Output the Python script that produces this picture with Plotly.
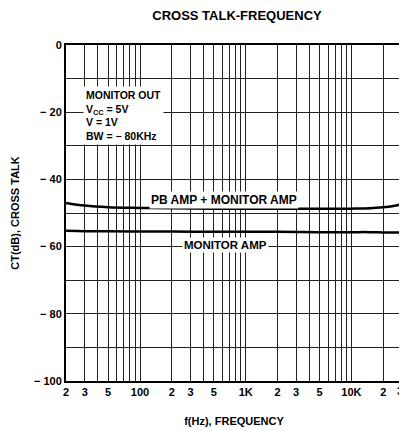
import math
import plotly.graph_objects as go

# ---- data ----
freq_hz = [20, 30, 50, 100, 200, 500, 1000, 2000, 5000, 10000, 15000, 20000, 25000, 30000]
pb_plus_monitor_db = [-47.0, -47.8, -48.3, -48.5, -48.6, -48.7, -48.7, -48.7, -48.7, -48.7, -48.6, -48.3, -47.9, -47.4]
monitor_amp_db = [-55.3, -55.4, -55.4, -55.5, -55.5, -55.6, -55.6, -55.6, -55.7, -55.7, -55.7, -55.8, -55.8, -55.8]

x_grid_vals = [20, 30, 40, 50, 60, 70, 80, 90,
               100, 200, 300, 400, 500, 600, 700, 800, 900,
               1000, 2000, 3000, 4000, 5000, 6000, 7000, 8000, 9000,
               10000, 20000, 30000]
x_labels = {20: "2", 30: "3", 50: "5", 100: "100", 200: "2", 300: "3", 500: "5",
            1000: "1K", 2000: "2", 3000: "3", 5000: "5", 10000: "10K", 20000: "2", 30000: "3"}
X_EDGE = 30000  # label at the right edge, drawn as an annotation so it is not hidden
x_tick_text = [x_labels.get(v, "") if v != X_EDGE else "" for v in x_grid_vals]

y_grid_vals = [-100, -90, -80, -70, -60, -50, -40, -30, -20, -10, 0]
y_labels = {-100: "\u2212 100", -80: "\u2212 80", -60: "\u2212 60", -40: "\u2212 40", -20: "\u2212 20", 0: "0"}
y_tick_text = [y_labels.get(v, "") for v in y_grid_vals]

FONT = "Liberation Sans, Arial, Helvetica, sans-serif"
W, H = 399, 423  # page body has an 8px margin

fig = go.Figure()
fig.add_trace(go.Scatter(x=freq_hz, y=pb_plus_monitor_db, mode="lines",
                         line=dict(color="black", width=2.5, shape="spline"),
                         name="PB AMP + MONITOR AMP", showlegend=False))
fig.add_trace(go.Scatter(x=freq_hz, y=monitor_amp_db, mode="lines",
                         line=dict(color="black", width=2.5, shape="spline"),
                         name="MONITOR AMP", showlegend=False))

fig.add_annotation(x=math.log10(620), y=-46.0, text="PB AMP + MONITOR AMP", showarrow=False,
                   xref="x", yref="y", bgcolor="white", borderpad=1,
                   font=dict(family=FONT, size=12, color="black", weight="bold"))
fig.add_annotation(x=math.log10(640), y=-59.4, text="MONITOR AMP", showarrow=False,
                   xref="x", yref="y", bgcolor="white", borderpad=1,
                   font=dict(family=FONT, size=11.5, color="black", weight="bold"))
fig.add_annotation(x=math.log10(29), y=-12.3,
                   text="MONITOR OUT<br>V<sub>CC</sub> = 5V<br>V = 1V<br>BW = \u2212 80KHz",
                   showarrow=False, xref="x", yref="y", xanchor="left", yanchor="top",
                   align="left", bgcolor="white", borderpad=2,
                   font=dict(family=FONT, size=10.5, color="black", weight="bold"))
fig.add_annotation(x=math.log10(X_EDGE), y=0, xref="x", yref="paper", text=x_labels[X_EDGE],
                   showarrow=False, xanchor="center", yanchor="top", xshift=-2, yshift=-3,
                   borderpad=0, font=dict(family=FONT, size=11, color="black", weight="bold"))

fig.update_layout(
    width=W, height=H,
    margin=dict(l=58, r=3, t=37, b=50),
    paper_bgcolor="white", plot_bgcolor="white",
    font=dict(family=FONT, size=11, color="black", weight="bold"),
    title=dict(text="CROSS TALK-FREQUENCY", x=229 / W, xanchor="center", y=1 - 3 / H,
               yanchor="top", font=dict(family=FONT, size=13, color="black", weight="bold")),
    showlegend=False,
)
fig.update_xaxes(type="log", range=[math.log10(20) - 0.001, math.log10(30000) + 0.001],
                 tickmode="array", tickvals=x_grid_vals, ticktext=x_tick_text,
                 ticklabeloverflow="allow",
                 showgrid=True, gridcolor="#222", gridwidth=1,
                 showline=True, linecolor="black", linewidth=2, mirror=True,
                 ticks="", ticklen=0, zeroline=False,
                 tickfont=dict(family=FONT, size=11, color="black", weight="bold"),
                 title=dict(text="f(Hz), FREQUENCY", standoff=20,
                            font=dict(family=FONT, size=11, color="black", weight="bold")))
fig.update_yaxes(range=[-100, 0], tickmode="array", tickvals=y_grid_vals, ticktext=y_tick_text,
                 showgrid=True, gridcolor="#222", gridwidth=1,
                 showline=True, linecolor="black", linewidth=2, mirror=True,
                 ticks="", zeroline=False,
                 tickfont=dict(family=FONT, size=11, color="black", weight="bold"),
                 title=dict(text="CT(dB), CROSS TALK", standoff=12,
                            font=dict(family=FONT, size=11, color="black", weight="bold")))

fig.write_html("out.html")
